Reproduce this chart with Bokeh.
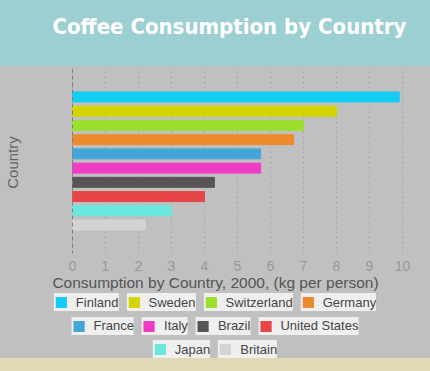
import math
from bokeh.plotting import figure
from bokeh.models import (ColumnDataSource, FactorRange, Range1d, Legend, LegendItem,
                          Label, Span, FixedTicker, Spacer)
from bokeh.layouts import column
from bokeh.embed import file_html
from bokeh.resources import INLINE

# ---- data ----
countries = ["Finland", "Sweden", "Switzerland", "Germany", "France", "Italy",
             "Brazil", "United States", "Japan", "Britain"]
consumption = [9.9, 8.0, 7.0, 6.7, 5.7, 5.7, 4.3, 4.0, 3.0, 2.2]
colors = ["#14cdf5", "#d4d400", "#9ae02c", "#ee8a2e", "#44a6d6", "#ee3dc4",
          "#5a5555", "#e64646", "#6ae8de", "#d3d3d3"]
x_ticks = [0, 1, 2, 3, 4, 5, 6, 7, 8, 9, 10]
title_text = "Coffee Consumption by Country"
x_label = "Consumption by Country, 2000, (kg per person)"
y_label = "Country"
legend_rows = [countries[0:4], countries[4:8], countries[8:10]]

TEAL = "#9bcfd1"
GRAY = "#c0c0c0"
BEIGE = "#dfdab5"
FONT = "Liberation Sans"
W = 430


def bare(fig, bg):
    fig.axis.visible = False
    fig.grid.visible = False
    fig.outline_line_color = None
    fig.background_fill_color = bg
    fig.border_fill_color = None
    fig.styles = {"background-color": bg}


# ---- title band ----
tf = figure(width=W, height=66, toolbar_location=None, output_backend="svg",
            x_range=Range1d(0, 1), y_range=Range1d(0, 1), min_border=0)
bare(tf, TEAL)
tf.add_layout(Label(x=406, y=40, x_units="screen", y_units="screen", text=title_text,
                    text_align="right", text_baseline="alphabetic",
                    text_color="#ffffff", text_font_style="bold", text_font_size="22px",
                    text_font="'DejaVu Sans Condensed', 'DejaVu Sans', sans-serif"))

# ---- main chart ----
src = ColumnDataSource(dict(country=countries, value=consumption, color=colors))

# frame spans the full width; 0 sits 72px from the left, 10 sits 28px from the right
px_per_unit = 33.0
p = figure(width=W, height=227, toolbar_location=None, output_backend="svg",
           y_range=FactorRange(*reversed(countries), range_padding=0.3),
           x_range=Range1d(-72 / px_per_unit, 10 + 28 / px_per_unit),
           min_border_left=0, min_border_right=0, min_border_top=2, min_border_bottom=40)
p.background_fill_color = GRAY
p.border_fill_color = None
p.styles = {"background-color": GRAY}
p.outline_line_color = None

r = p.hbar(y="country", right="value", left=0, height=0.7, color="color", source=src)

p.ygrid.visible = False
p.yaxis.visible = False
p.xgrid.grid_line_color = "#a6a6a6"
p.xgrid.grid_line_dash = "2 3"
p.xgrid.ticker = FixedTicker(ticks=x_ticks)
p.add_layout(Span(location=0, dimension="height", line_color="#808080",
                  line_dash="4 3", line_width=1))

xa = p.xaxis[0]
xa.ticker = FixedTicker(ticks=x_ticks)
xa.axis_line_color = None
xa.major_tick_line_color = None
xa.minor_tick_line_color = None
xa.major_label_text_color = "#999999"
xa.major_label_text_font_size = "14px"
xa.major_label_text_font = FONT
xa.major_label_standoff = 1
xa.axis_label = x_label
xa.axis_label_text_font = FONT
xa.axis_label_text_font_style = "normal"
xa.axis_label_text_font_size = "15.5px"
xa.axis_label_text_color = "#555555"
xa.axis_label_standoff = 0

p.add_layout(Label(x=12, y=91, x_units="screen", y_units="screen", text=y_label,
                   angle=math.pi / 2, text_align="center", text_baseline="middle",
                   text_color="#666666", text_font_size="15px", text_font=FONT))

# ---- legend band ----
lf = figure(width=W, height=65, toolbar_location=None, output_backend="svg",
            x_range=Range1d(100, 101), y_range=FactorRange(*countries), min_border=0)
bare(lf, GRAY)
lr = lf.hbar(y="country", right="value", left=0, height=0, fill_color="color",
             line_color=None, source=src)

for names, loc in zip(legend_rows, ["top_center", "center", "bottom_center"]):
    items = [LegendItem(label=n, renderers=[lr], index=countries.index(n)) for n in names]
    lg = Legend(items=items, location=loc, orientation="horizontal",
                background_fill_alpha=0, border_line_color=None,
                spacing=8, padding=0, margin=0,
                glyph_width=14, glyph_height=14, label_standoff=8,
                label_height=18,
                label_text_font=FONT, label_text_font_size="13px",
                label_text_color="#444444",
                item_background_policy="every",
                item_background_fill_color="#efefef", item_background_fill_alpha=1.0)
    lf.add_layout(lg)

bottom = Spacer(width=W, height=13, styles={"background-color": BEIGE})

layout = column(tf, p, lf, bottom, spacing=0)
open("out.html", "w").write(file_html(layout, INLINE))
